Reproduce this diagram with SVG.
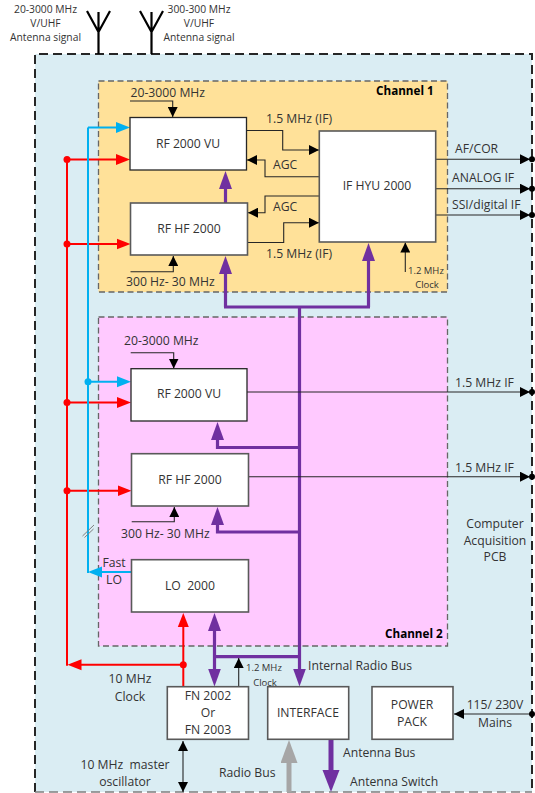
<svg xmlns="http://www.w3.org/2000/svg" width="535" height="793" viewBox="0 0 535 793">
<defs>
<marker id="ak" markerUnits="userSpaceOnUse" markerWidth="12" markerHeight="10" refX="10" refY="5" orient="auto-start-reverse"><path d="M0 0L10 5L0 10Z" fill="#000"/></marker>
<marker id="ar" markerUnits="userSpaceOnUse" markerWidth="15" markerHeight="14" refX="10" refY="6" orient="auto-start-reverse"><path d="M0 0.500L14 6L0 11.500Z" fill="#ff0000"/></marker>
<marker id="ab" markerUnits="userSpaceOnUse" markerWidth="15" markerHeight="14" refX="10" refY="6" orient="auto-start-reverse"><path d="M0 0.500L14 6L0 11.500Z" fill="#00b0f0"/></marker>
<marker id="ap" markerUnits="userSpaceOnUse" markerWidth="19" markerHeight="14" refX="4" refY="6.500" orient="auto-start-reverse"><path d="M0 0L18 6.500L0 13Z" fill="#7030a0"/></marker>
<marker id="aP" markerUnits="userSpaceOnUse" markerWidth="23" markerHeight="18" refX="4" refY="8.500" orient="auto-start-reverse"><path d="M0 0L22 8.500L0 17Z" fill="#7030a0"/></marker>
<marker id="ag" markerUnits="userSpaceOnUse" markerWidth="24" markerHeight="18" refX="4" refY="8.500" orient="auto-start-reverse"><path d="M0 0L23 8.500L0 17Z" fill="#a6a6a6"/></marker>
</defs>
<style>
text{font-family:"Open Sans","Liberation Sans",sans-serif;font-size:12.200px;fill:#333}
.m{text-anchor:middle}
.b{font-weight:700;fill:#000;font-size:11.700px}
.s{font-size:9.500px}
.t{font-size:10.300px}
.box{fill:#fff;stroke:#595959;stroke-width:1.6}
.boxd{fill:#fff;stroke:#262626;stroke-width:1.3}
.k{fill:none;stroke:#262626;stroke-width:1.1}
.kh{fill:none;stroke:#262626;stroke-width:1.1;marker-end:url(#ak)}
.r{fill:none;stroke:#ff0000;stroke-width:2;marker-end:url(#ar)}
.c{fill:none;stroke:#00b0f0;stroke-width:2;marker-end:url(#ab)}
.p{fill:none;stroke:#7030a0;stroke-width:3.200}
.ph{fill:none;stroke:#7030a0;stroke-width:3.200;marker-end:url(#ap)}
.zone{stroke:#666;stroke-width:1.3;stroke-dasharray:6 3.500}
</style>
<g id="board"><rect x="35" y="54" width="497" height="738" fill="#daedf3"/>
<path d="M35 792V54H532V792" fill="none" stroke="#262626" stroke-width="2" stroke-dasharray="9 5"/>
<path d="M35 792H532" fill="none" stroke="#7f7f7f" stroke-width="1.500" stroke-dasharray="9 5"/>
<text class="m" x="495" y="528">Computer</text><text class="m" x="495" y="545">Acquisition</text><text class="m" x="495" y="561">PCB</text></g>
<g id="channel-1"><rect class="zone" x="98.500" y="81" width="349" height="211" fill="#ffe199"/><text class="b" x="376" y="95">Channel 1</text></g>
<g id="channel-2"><rect class="zone" x="98.500" y="317" width="349" height="329" fill="#ffc9ff"/><text class="b" x="385" y="638">Channel 2</text></g>
<g id="antennas" fill="none" stroke="#000"><path d="M98.500 54V12M87 11L98.500 32L110 11" stroke-width="2.200"/><path d="M151.500 54V12M140 11L151.500 32L163 11" stroke-width="2.200"/></g>
<g id="connectors">
<path class="r" d="M67 159.500H126"/><path class="r" d="M67 244H126.500"/><path class="r" d="M67 402.500H127"/><path class="r" d="M67 490.700H127.500"/>
<path class="r" d="M183.300 664.700H71.500"/><path d="M67 159.500V665.700" fill="none" stroke="#ff0000" stroke-width="2"/><path class="r" d="M183.300 687V617"/>
<g fill="#ff0000"><circle cx="67" cy="159.500" r="3.500"/><circle cx="67" cy="244" r="3.500"/><circle cx="67" cy="402.500" r="3.500"/><circle cx="67" cy="490.700" r="3.500"/><circle cx="183.300" cy="664.700" r="3.500"/></g>
<path d="M88 127.500V573" fill="none" stroke="#00b0f0" stroke-width="2"/><path class="c" d="M88 127.500H126"/><path class="c" d="M88 381.700H127"/><path class="c" d="M132 572H92"/><circle cx="88" cy="381.700" r="3.500" fill="#00b0f0"/>
<path d="M82.500 536L94 525M84.500 537.500L93.500 529" stroke="#7f7f7f" fill="none"/>
<path class="ph" d="M299.500 307V672.500"/><path class="ph" d="M368.500 307V257"/><path class="ph" d="M225.500 307V270"/><path class="p" d="M224 307H370"/>
<path class="ph" d="M225.500 204V185"/>
<path class="ph" d="M299.500 447.500H217.500V436"/>
<path class="ph" d="M299.500 532H217.500V521"/>
<path class="ph" d="M214.500 627V672.500" style="marker-start:url(#ap)"/><path class="p" d="M214.500 656.700H299.500"/>
<path class="kh" d="M238.700 686.500V658"/>
<path d="M289 792V759" stroke="#a6a6a6" stroke-width="5" fill="none" marker-end="url(#ag)"/>
<path d="M331 739V774" stroke="#7030a0" stroke-width="5" fill="none" marker-end="url(#aP)"/>
<path d="M183 741V792" class="kh" style="marker-start:url(#ak)"/>
<path class="kh" d="M532 714H454"/>
<path class="kh" d="M130 101H172.700V117"/><path class="kh" d="M130.500 271.700H173.300V256"/>
<path class="kh" d="M247 130.500H282.700V150H319"/><path class="kh" d="M319 176.700H265V160H247"/>
<path class="kh" d="M319 196H265V212.700H248"/><path class="kh" d="M248 242.500H283.700V222.700H319"/>
<path class="kh" d="M436 159.300H530"/><path class="kh" d="M436 188.700H530"/><path class="kh" d="M436 215H530"/>
<path class="kh" d="M247 392H530"/><path class="kh" d="M248.500 476.700H530"/>
<path class="kh" d="M405.300 272V242.500"/>
<path class="kh" d="M130.700 352.700H173.700V368.500"/><path class="kh" d="M131.700 521.700H174.300V507"/>
<g fill="#000"><circle cx="532" cy="159.300" r="3"/><circle cx="532" cy="188.700" r="3"/><circle cx="532" cy="215" r="3"/><circle cx="532" cy="392" r="3"/><circle cx="532" cy="476.700" r="3"/><circle cx="532" cy="714" r="3"/></g>
</g>
<g id="rf-vu-1"><rect class="boxd" x="130" y="117.500" width="116.500" height="52.500"/><text class="m" x="188" y="148">RF 2000 VU</text></g>
<g id="rf-hf-1"><rect class="box" x="130.500" y="203" width="117" height="52"/><text class="m" x="189" y="233">RF HF 2000</text></g>
<g id="if-hyu"><rect class="box" x="319.300" y="131" width="116.400" height="111"/><text class="m" x="377" y="190">IF HYU 2000</text></g>
<g id="rf-vu-2"><rect class="boxd" x="131" y="368.700" width="116" height="52.300"/><text class="m" x="189" y="398">RF 2000 VU</text></g>
<g id="rf-hf-2"><rect class="box" x="131.500" y="453.700" width="117" height="52.300"/><text class="m" x="190" y="484">RF HF 2000</text></g>
<g id="lo"><rect class="box" x="131.500" y="559.700" width="117" height="52.300"/><text class="m" x="190" y="590" xml:space="preserve">LO  2000</text></g>
<g id="fn"><rect class="box" x="167.300" y="686.700" width="81.200" height="52.600"/><text class="m" x="208" y="700">FN 2002</text><text class="m" x="208" y="717">Or</text><text class="m" x="208" y="734">FN 2003</text></g>
<g id="interface"><rect class="box" x="267.700" y="686.700" width="81" height="52.600"/><text class="m" x="308" y="717">INTERFACE</text></g>
<g id="power"><rect class="box" x="372" y="686.700" width="81" height="52.600"/><text class="m" x="412" y="709">POWER</text><text class="m" x="412" y="726">PACK</text></g>
<g id="labels">
<text class="m t" x="45.500" y="13">20-3000 MHz</text><text class="m t" x="45.500" y="27">V/UHF</text><text class="m t" x="45.500" y="41">Antenna signal</text>
<text class="m t" x="199" y="13">300-300 MHz</text><text class="m t" x="199" y="27">V/UHF</text><text class="m t" x="199" y="41">Antenna signal</text>
<text x="130.500" y="97">20-3000 MHz</text><text x="266" y="123">1.5 MHz (IF)</text><text x="266" y="258">1.5 MHz (IF)</text>
<text x="273" y="169">AGC</text><text x="273" y="211">AGC</text>
<text x="455" y="153">AF/COR</text><text x="452" y="182">ANALOG IF</text><text x="452" y="209">SSI/digital IF</text>
<text class="s" x="408" y="274">1.2 MHz</text><text class="m s" x="427" y="288">Clock</text>
<text x="126" y="286">300 Hz- 30 MHz</text><text x="124" y="345">20-3000 MHz</text><text x="121" y="538">300 Hz- 30 MHz</text>
<text x="455" y="387">1.5 MHz IF</text><text x="455" y="472">1.5 MHz IF</text>
<text class="m" x="114" y="567">Fast</text><text class="m" x="114" y="584">LO</text>
<text class="m" x="130" y="683">10 MHz</text><text class="m" x="130" y="701">Clock</text>
<text class="s" x="246" y="671">1.2 MHz</text><text class="m s" x="265" y="686">Clock</text>
<text x="308" y="670">Internal Radio Bus</text>
<text class="m" x="495" y="709">115/ 230V</text><text class="m" x="495" y="727">Mains</text>
<text x="343" y="757">Antenna Bus</text><text x="350" y="786">Antenna Switch</text><text x="219" y="777">Radio Bus</text>
<text class="m" x="125" y="769" xml:space="preserve">10 MHz  master</text><text class="m" x="125" y="786">oscillator</text>
</g>
</svg>
